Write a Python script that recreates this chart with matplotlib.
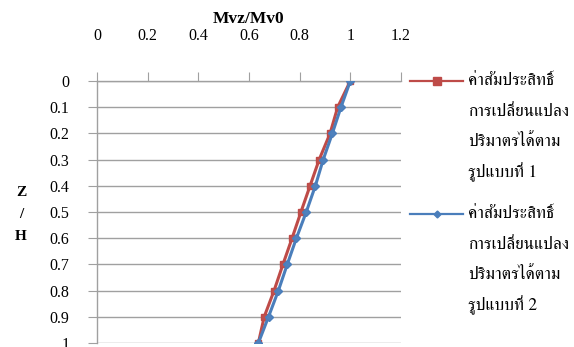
import matplotlib
matplotlib.use('Agg')
import matplotlib.pyplot as plt
from matplotlib.lines import Line2D

plt.rcParams['font.family'] = ['Liberation Serif', 'FreeSerif']

# ระดับความสูง Z/H และค่า Mvz/Mv0
z_h = [0, 0.1, 0.2, 0.3, 0.4, 0.5, 0.6, 0.7, 0.8, 0.9, 1.0]
mv_1 = [1.0, 0.95, 0.92, 0.877, 0.841, 0.805, 0.77, 0.734, 0.699, 0.66, 0.637]
mv_2 = [1.0, 0.963, 0.929, 0.893, 0.862, 0.826, 0.787, 0.751, 0.716, 0.677, 0.637]
label_1 = ['ค่าสัมประสิทธิ์', 'การเปลี่ยนแปลง', 'ปริมาตรได้ตาม', 'รูปแบบที่ 1']
label_2 = ['ค่าสัมประสิทธิ์', 'การเปลี่ยนแปลง', 'ปริมาตรได้ตาม', 'รูปแบบที่ 2']
x_ticks = [0, 0.2, 0.4, 0.6, 0.8, 1, 1.2]
x_labels = ['0', '0.2', '0.4', '0.6', '0.8', '1', '1.2']
y_ticks = [0, 0.1, 0.2, 0.3, 0.4, 0.5, 0.6, 0.7, 0.8, 0.9, 1.0]
y_labels = ['0', '0.1', '0.2', '0.3', '0.4', '0.5', '0.6', '0.7', '0.8', '0.9', '1']

red = '#BE4B48'
blue = '#4A7EBB'
grey = '#A0A0A0'

fig = plt.figure(figsize=(5.74, 3.47), dpi=100)
ax = fig.add_axes([97/574, 1 - 343/347, (401-97)/574, (343-81)/347])

ax.plot(mv_1, z_h, color=red, lw=2.2, marker='s', ms=5, mfc='#C0504D', mec=red, zorder=3)
ax.plot(mv_2, z_h, color=blue, lw=2.2, marker='D', ms=4, mfc='#4F81BD', mec=blue, zorder=4)

ax.set_xlim(0, 1.2)
ax.set_ylim(1, 0)
ax.xaxis.tick_top()
ax.set_xticks(x_ticks)
ax.set_xticklabels(x_labels)
ax.set_yticks(y_ticks)
ax.set_yticklabels(y_labels)
ax.tick_params(axis='x', length=6.5, color=grey, pad=20, labelsize=11.5)
ax.tick_params(axis='y', length=6.5, color=grey, pad=13.5, labelsize=11.5)
ax.yaxis.grid(True, color=grey, lw=1)
for s in ['right', 'bottom']:
    ax.spines[s].set_visible(False)
for s in ['top', 'left']:
    ax.spines[s].set_color(grey)
    ax.spines[s].set_linewidth(1)
for t in ax.get_xticklabels() + ax.get_yticklabels():
    t.set_clip_on(False)

fig.text(249/574, 1 - 19/347, 'Mvz/Mv0', ha='center', va='center', fontsize=12.5, fontweight='bold')
fig.text(21/574, 1 - 214/347, 'Z\n/\nH', ha='center', va='center', fontsize=11,
         fontweight='bold', linespacing=1.9)

# คำอธิบายสัญลักษณ์
for lines, col, mk, ms, y0 in [(label_1, red, 's', 5.5, 81), (label_2, blue, 'D', 3.5, 214)]:
    fig.add_artist(Line2D([410/574, 463/574], [1 - y0/347, 1 - y0/347], color=col, lw=1.6,
                          transform=fig.transFigure))
    fig.add_artist(Line2D([436.5/574], [1 - y0/347], color=col, marker=mk, ms=ms,
                          transform=fig.transFigure))
    for i, s in enumerate(lines):
        fig.text(468/574, 1 - (y0 + i*30.5)/347, s, ha='left', va='center', fontsize=12.5,
                 family=['FreeSerif'])

fig.savefig('out.png', dpi=100)
